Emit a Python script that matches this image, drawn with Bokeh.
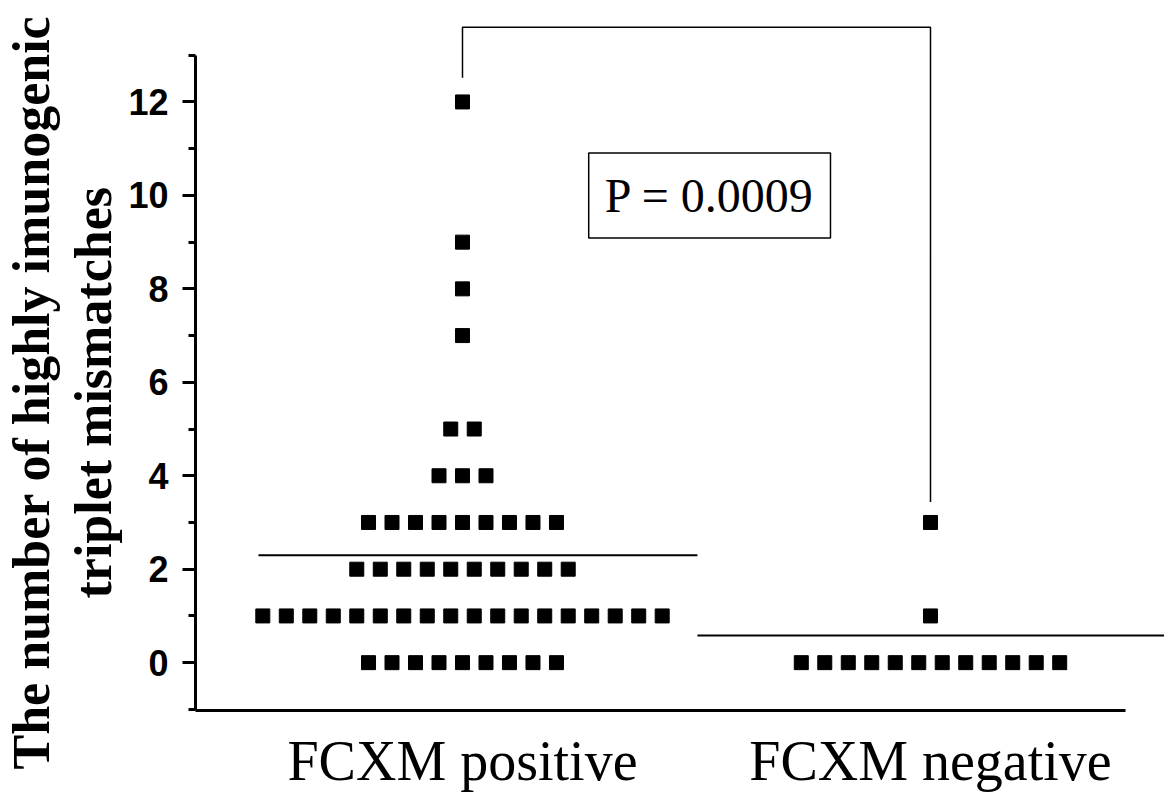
from bokeh.plotting import figure
from bokeh.models import FixedTicker, Label, Range1d, Title
from bokeh.embed import file_html
from bokeh.resources import INLINE

# ---- data ----
groups = ["FCXM positive", "FCXM negative"]
group_pos = [1, 2]
pos_levels = [0, 1, 2, 3, 4, 5, 7, 8, 9, 12]
pos_counts = [9, 18, 10, 9, 3, 2, 1, 1, 1, 1]
neg_levels = [0, 1, 3]
neg_counts = [12, 1, 1]
group_means = [2.3, 0.58]
p_value_text = "P = 0.0009"
y_title_lines = ["The number of highly imunogenic", "triplet mismatches"]
y_ticks = [0, 2, 4, 6, 8, 10, 12]
y_minor = [-1, 1, 3, 5, 7, 9, 11, 13]

# ---- layout constants ----
DOT_STEP = 0.0502
MEAN_EXT = [(-0.436, 0.502), (-0.498, 0.6)]
BRACKET_TOP = 13.6
BRACKET_ENDS = [12.52, 3.44]

def dot_positions(center, levels, counts):
    xs, ys = [], []
    for lv, n in zip(levels, counts):
        for i in range(n):
            xs.append(center + (i - (n - 1) / 2) * DOT_STEP)
            ys.append(lv)
    return xs, ys

p = figure(width=1164, height=794,
           x_range=Range1d(0.4295, 2.5), y_range=Range1d(-1.024, 13.786),
           output_backend="svg", toolbar_location=None,
           min_border_left=195, min_border_right=0,
           min_border_top=18, min_border_bottom=82)
p.outline_line_color = None
p.xgrid.grid_line_color = None
p.ygrid.grid_line_color = None
p.background_fill_color = "white"
p.border_fill_color = "white"

# dots
for center, lv, ct in [(group_pos[0], pos_levels, pos_counts),
                       (group_pos[1], neg_levels, neg_counts)]:
    xs, ys = dot_positions(center, lv, ct)
    p.scatter(xs, ys, marker="square", size=14, color="black")

# mean lines
x0 = [c + e[0] for c, e in zip(group_pos, MEAN_EXT)]
x1 = [c + e[1] for c, e in zip(group_pos, MEAN_EXT)]
p.segment(x0=x0, y0=group_means, x1=x1, y1=group_means,
          line_color="black", line_width=2)

# significance bracket
p.line([group_pos[0], group_pos[0], group_pos[1], group_pos[1]],
       [BRACKET_ENDS[0], BRACKET_TOP, BRACKET_TOP, BRACKET_ENDS[1]],
       line_color="black", line_width=1.5)

lbl = Label(x=1.528, y=10.0, text=p_value_text,
            text_align="center", text_baseline="middle",
            text_font="Liberation Serif", text_font_size="48px",
            text_color="black",
            border_line_color="black", border_line_width=1.5,
            background_fill_color="white", padding=16)
p.add_layout(lbl)

# y axis title: two rotated lines (inner line added first)
for line, off, so in [(y_title_lines[1], 112, 7), (y_title_lines[0], -59, 0)]:
    p.add_layout(Title(text=line, align="left", offset=off, standoff=so,
                       text_font="Liberation Serif", text_font_style="bold",
                       text_font_size="52px", text_color="black"), "left")

# y axis
ya = p.yaxis[0]
ya.ticker = FixedTicker(ticks=y_ticks, minor_ticks=y_minor)
ya.bounds = (-1.024, 13)
ya.axis_line_width = 3
ya.major_tick_line_width = 3
ya.minor_tick_line_width = 3
ya.major_tick_out = 13
ya.major_tick_in = 0
ya.minor_tick_out = 7
ya.minor_tick_in = 0
ya.major_label_standoff = 14
ya.major_label_text_font = "Liberation Sans"
ya.major_label_text_font_style = "bold"
ya.major_label_text_font_size = "36px"
ya.major_label_text_color = "black"

# x axis
xa = p.xaxis[0]
xa.ticker = FixedTicker(ticks=group_pos)
xa.major_label_overrides = {g: name for g, name in zip(group_pos, groups)}
xa.bounds = (0.4295, 2.4167)
xa.axis_line_width = 3
xa.major_tick_line_color = None
xa.minor_tick_line_color = None
xa.major_tick_out = 0
xa.major_tick_in = 0
xa.major_label_standoff = 19
xa.major_label_text_font = "Liberation Serif"
xa.major_label_text_font_size = "56px"
xa.major_label_text_color = "black"

open("out.html", "w").write(file_html(p, INLINE))
